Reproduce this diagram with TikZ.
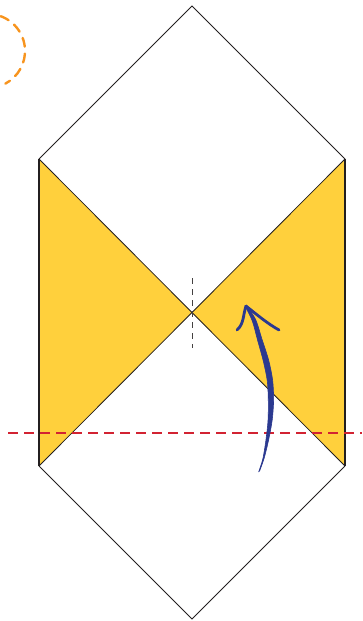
\documentclass[tikz,border=0pt]{standalone}
\definecolor{fillyellow}{RGB}{255,208,60}
\definecolor{dashorange}{RGB}{247,148,30}
\definecolor{dashred}{RGB}{210,35,50}
\definecolor{arrowblue}{RGB}{43,57,144}
\definecolor{edgegray}{RGB}{35,31,32}
\tikzset{
  edge/.style={draw=edgegray, line width=0.8pt, line join=miter},
  side/.style={draw=edgegray, line width=1.5pt},
  wedge/.style={fill=fillyellow},
  axisdash/.style={draw=edgegray!85, line width=0.9pt, dash pattern=on 6pt off 5pt},
  reddash/.style={draw=dashred, line width=2.4pt, dash pattern=on 10pt off 6pt},
  orangedash/.style={draw=dashorange, line width=2.4pt, dash pattern=on 9pt off 7pt, line cap=round},
  barb/.style={draw=arrowblue, line width=2.8pt, line cap=round, line join=round},
  shaft/.style={fill=arrowblue, draw=arrowblue, line width=0.6pt}
}
\begin{document}
\begin{tikzpicture}[x=1pt,y=-1pt]
\useasboundingbox (0,0) rectangle (362,621);
\coordinate (T) at (192,6);
\coordinate (LT) at (39,159);
\coordinate (RT) at (345,159);
\coordinate (C) at (192,312.5);
\coordinate (LB) at (39,466);
\coordinate (RB) at (345,466);
\coordinate (B) at (192,619);
% yellow wedges
\path[wedge] (LT) -- (C) -- (LB) -- cycle;
\path[wedge] (RT) -- (C) -- (RB) -- cycle;
% outline
\draw[edge] (LT) -- (T) -- (RT);
\draw[edge] (LB) -- (B) -- (RB);
\draw[edge] (LT) -- (RB);
\draw[edge] (RT) -- (LB);
\draw[side] (LT) -- (LB);
\draw[side] (RT) -- (RB);
% vertical axis dash
\coordinate (AxTop) at (192,278);
\coordinate (AxBot) at (192,348);
\draw[axisdash] (AxTop) -- (AxBot);
% red dashed line
\coordinate (RedL) at (8,433);
\coordinate (RedR) at (362,433);
\draw[reddash] (RedL) -- (RedR);
% orange dashed arc (clipped to the page)
\begin{scope}
\clip (0,0) rectangle (362,621);
\draw[orangedash] (-15.2,14.1) arc[start angle=-95, end angle=62, radius=37];
\end{scope}
% blue hand-drawn arrow
\coordinate (Tip) at (246,306);
\coordinate (Tail) at (259,471);
\path[shaft] plot[smooth] coordinates {(245,306) (252.3,321) (257.8,341) (263.3,361) (267.3,381) (268.3,401) (268,421) (265.8,441) (262.8,459) (258.8,471.5)}
  -- plot[smooth] coordinates {(259.6,471) (264.2,458) (268.6,440) (272.2,420) (273.6,400) (272.6,380) (268.6,360) (262.2,340) (255.8,320) (247,306)} -- cycle;
\draw[barb] (Tip) .. controls (243,315) and (244,324) .. (237,330);
\draw[barb] (Tip) .. controls (256,314) and (268,324) .. (279,330);
\end{tikzpicture}
\end{document}
